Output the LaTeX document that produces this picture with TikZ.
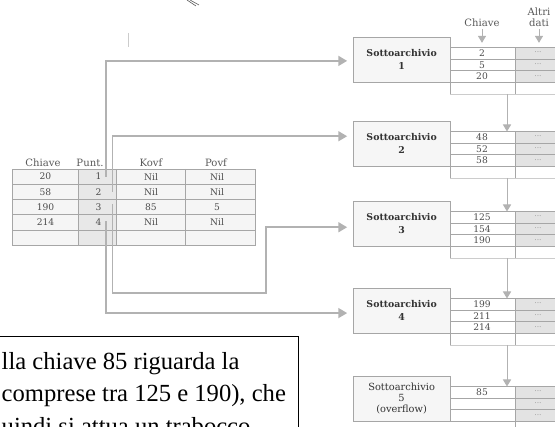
\documentclass[tikz,border=0pt]{standalone}
\usepackage{fontspec}
\setmainfont{DejaVu Serif}
\newfontfamily\notefont{Liberation Serif}
\usepackage{tikz}
\usetikzlibrary{arrows.meta, calc}

\tikzset{
    tabline/.style={draw=gray!70, line width=0.5pt},
    archbox/.style={draw=gray!70, fill=gray!7, line width=0.5pt, minimum width=82.5pt, minimum height=38.3pt, inner sep=0pt, align=center, text=black!80},
    datafill/.style={fill=gray!22},
    val/.style={font=\fontsize{7.8}{8}\selectfont, text=black!70, inner sep=0pt},
    head/.style={font=\fontsize{8.6}{9.4}\selectfont, text=black!65, inner sep=0pt, align=center},
    dots/.style={font=\fontsize{6.5}{7}\selectfont, text=gray!80, inner sep=0pt},
    conn/.style={draw=gray!60, line width=1.3pt, -{Triangle[width=8.5pt,length=7.5pt]}, shorten >=5pt},
    link/.style={draw=gray!60, line width=0.8pt, -{Triangle[width=7pt,length=6pt]}},
    note/.style={anchor=base west, inner sep=0pt, font=\notefont\fontsize{21}{25}\selectfont}
}

\begin{document}
\begin{tikzpicture}[x=0.03cm, y=-0.03cm]
    \useasboundingbox (0,0) rectangle (555,427);
    % scan marks
    \draw[gray!70!black, line width=0.5pt] (187,0) -- (196,6);
    \draw[gray!70!black, line width=0.5pt] (190,0) -- (199,5);
    \draw[gray!40, line width=0.6pt] (128,33) -- (128,47);
    % index table
    \fill[gray!8] (12.7,169) rectangle (255,245);
    \fill[gray!18] (78.3,169) rectangle (116.7,245);
    \foreach \y in {184.2,199.4,214.6,229.8} { \draw[tabline] (12.7,\y) -- (255,\y); }
    \foreach \x in {78.3,116.7,185} { \draw[tabline] (\x,169) -- (\x,245); }
    \draw[tabline] (12.7,169) rectangle (255,245);
    \node[head] (hk) at (43,163) {Chiave};
    \node[head] (hp) at (90,163) {Punt.};
    \node[head] (hko) at (151,163) {Kovf};
    \node[head] (hpo) at (216,163) {Povf};
    \foreach \r/\y/\ch/\ko/\po in {1/176.6/20/Nil/Nil, 2/191.8/58/Nil/Nil, 3/207/190/85/5, 4/222.2/214/Nil/Nil} {
        \node[val] (k\r) at (45.5,\y) {\ch};
        \node[val] (p\r) at (98.5,\y) {\r};
        \node[val] (ko\r) at (151,\y) {\ko};
        \node[val] (po\r) at (217,\y) {\po};
    }
    % sub-archives 1-4
    \foreach \k/\t/\a/\b/\c in {1/37/2/5/20, 2/121/48/52/58, 3/201/125/154/190, 4/288/199/211/214} {
        \fill[datafill] (515,\t+10.5) rectangle (580,\t+45.3);
        \node[archbox, anchor=north west, font=\bfseries\fontsize{8}{11}\selectfont] (s\k) at (353,\t) {Sottoarchivio\\\k};
        \foreach \j in {0,1,2,3} { \draw[tabline] (450,\t+10.5+11.6*\j) -- (580,\t+10.5+11.6*\j); }
        \draw[tabline, gray!40] (450,\t+56.9) -- (580,\t+56.9);
        \draw[tabline] (515,\t+10.5) -- (515,\t+56.9);
        \draw[tabline] (450,\t+45) -- (450,\t+56.9);
        \node[val] (c\k-1) at (482,\t+16.3) {\a};
        \node[val] (c\k-2) at (482,\t+27.9) {\b};
        \node[val] (c\k-3) at (482,\t+39.5) {\c};
        \foreach \j in {0,1,2} { \node[dots] (d\k-\j) at (538,\t+15.5+11.6*\j) {...}; }
        \coordinate (tt\k) at (507,\t+10.5);
        \coordinate (tb\k) at (507,\t+56.9);
    }
    % overflow sub-archive
    \fill[datafill] (515,386.5) rectangle (580,421.3);
    \node[archbox, anchor=north west, font=\fontsize{8.4}{9.5}\selectfont] (s5) at (353,376) {Sottoarchivio\\5\\(overflow)};
    \foreach \j in {0,1,2,3} { \draw[tabline] (450,386.5+11.6*\j) -- (580,386.5+11.6*\j); }
    \draw[tabline] (515,386.5) -- (515,440);
    \node[val] (c5-1) at (482,392.3) {85};
    \foreach \j in {0,1,2} { \node[dots] (d5-\j) at (538,391.5+11.6*\j) {...}; }
    \coordinate (tt5) at (507,386.5);
    % column headers
    \node[head] (hc) at (482,23) {Chiave};
    \node[head] (ha) at (539,17.5) {Altri\\dati};
    \draw[link, shorten >=4pt] ([yshift=-2pt]hc.south) -- (hc.south |- tt1);
    \draw[link, shorten >=4pt] ([yshift=-2pt]ha.south) -- (ha.south |- tt1);
    % chain of sub-archives
    \foreach \a/\b in {1/2, 2/3, 3/4, 4/5} { \draw[link] (tb\a) -- (tt\b); }
    % pointers
    \coordinate (bend3) at (266,293);
    \draw[conn] ($(p1)+(7.5,0)$) |- ([yshift=-1pt]s1.west);
    \draw[conn] ($(p2)+(14,0)$) |- ([yshift=6.4pt]s2.west);
    \draw[conn] ($(p3)+(14,-3)$) |- (bend3) |- ([yshift=-3pt]s3.west);
    \draw[conn] ($(p4)+(7.5,-1)$) |- ([yshift=-2pt]s4.west);
    % note box
    \draw[black, fill=white, line width=0.7pt] (-5,336) rectangle (298,440);
    \node[note] (n1) at (1.5,369) {lla chiave 85 riguarda la};
    \node[note] (n2) at (1.5,401.7) {comprese tra 125 e 190), che};
    \node[note] (n3) at (1.5,434) {uindi si attua un trabocco};
\end{tikzpicture}
\end{document}
